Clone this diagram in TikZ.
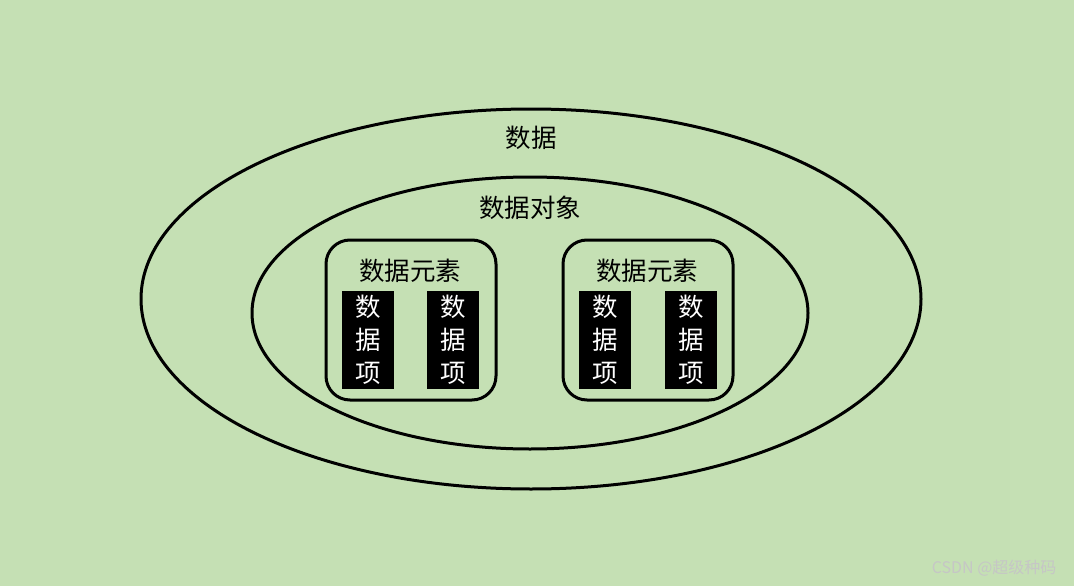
\documentclass[tikz,border=0pt]{standalone}
\usepackage{fontspec}
\newfontfamily\cjk{Noto Sans CJK SC}
\definecolor{bg}{HTML}{C5E0B4}
\begin{document}
\begin{tikzpicture}[x=1pt,y=-1pt,
  lbl/.style={font=\cjk\fontsize{25.5}{28}\selectfont},
  bar/.style={fill=black,text=white,minimum width=52pt,minimum height=98pt,inner sep=0pt,align=center,font=\cjk\fontsize{25.5}{33}\selectfont},
  elem/.style={draw,line width=3pt,rounded corners=24pt,minimum width=170pt,minimum height=160pt},
  ring/.style={draw,line width=3pt}]
\fill[bg] (0,0) rectangle (1074,586);
\useasboundingbox (0,0) rectangle (1074,586);
\draw[ring] (531,299) ellipse [x radius=390, y radius=190];
\draw[ring] (530,313) ellipse [x radius=278, y radius=136];
\node[elem] (e1) at (411,320) {};
\node[elem] (e2) at (648,320) {};
\node[lbl] (t1) at (531,138) {数据};
\node[lbl] (t2) at (530,208) {数据对象};
\node[lbl] (t3) at (410,271) {数据元素};
\node[lbl] (t4) at (647,271) {数据元素};
\node[bar] (b1) at (368,340) {数\\据\\项};
\node[bar] (b2) at (453,340) {数\\据\\项};
\node[bar] (b3) at (605,340) {数\\据\\项};
\node[bar] (b4) at (691,340) {数\\据\\项};
\node[font=\cjk\fontsize{16}{18}\selectfont,text=white!55!gray,anchor=east] (wm) at (1060,568) {CSDN @超级种码};
\end{tikzpicture}
\end{document}
